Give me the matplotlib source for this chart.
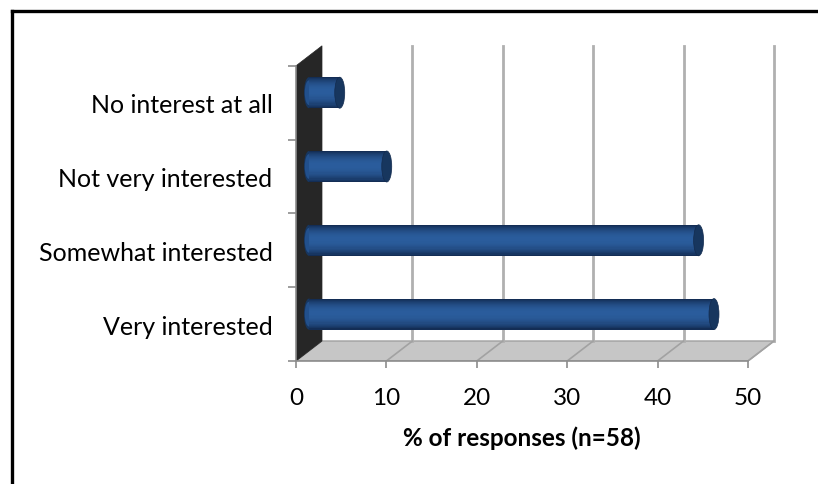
import matplotlib
matplotlib.use("Agg")
import numpy as np
import matplotlib.pyplot as plt
from matplotlib.patches import Polygon, Ellipse
from matplotlib.lines import Line2D
from matplotlib.colors import to_rgb

# ---- data ----
categories = ["Very interested", "Somewhat interested", "Not very interested", "No interest at all"]
values = [44.8, 43.1, 8.6, 3.4]
x_ticks = [0, 10, 20, 30, 40, 50]
x_label = "% of responses (n=58)"

plt.rcParams['font.family'] = ['Lato', 'DejaVu Sans']

W, H = 818, 485
fig = plt.figure(figsize=(W / 100, H / 100), dpi=100)
fig.patch.set_facecolor("white")

# pixel geometry of the front plane
x0_px, px_per_unit = 296, 9.04
y0_px, px_per_cat = 362, 73.8
xmax, ymax = 53.2, 3.78
ax = fig.add_axes([x0_px / W, (H - y0_px) / H,
                   xmax * px_per_unit / W, (ymax + 0.5) * px_per_cat / H])
ax.set_xlim(0, xmax)
ax.set_ylim(-0.5, ymax)
ax.patch.set_alpha(0)

dx, dy = 26 / px_per_unit, 20 / px_per_cat
vmax = x_ticks[-1]
n = len(categories)
ybot, ytop = -0.5, n - 0.5

grid_c = "#B0B0B0"
# floor
ax.add_patch(Polygon([(0, ybot), (vmax, ybot), (vmax + dx, ybot + dy), (dx, ybot + dy)],
                     closed=True, facecolor="#C6C6C6", edgecolor="#A0A0A0", lw=1.0, zorder=1))
# left wall
ax.add_patch(Polygon([(0, ybot), (0, ytop), (dx, ytop + dy), (dx, ybot + dy)],
                     closed=True, facecolor="#262626", edgecolor="#262626", lw=0.5, zorder=1.2))
# gridlines back wall + floor
for t in x_ticks[1:]:
    ax.plot([t + dx, t + dx], [ybot + dy, ytop + dy], color=grid_c, lw=2.0, zorder=1.1)
    ax.plot([t, t + dx], [ybot, ybot + dy], color="#A2A2A2", lw=1.2, zorder=1.1)

# cylinders
h = 0.42
yc = [i + dy / 2 for i in range(n)]
start = dx / 2
cap_w = 10 / px_per_unit
edge_rgb = np.array(to_rgb("#132D55"))
mid_rgb = np.array(to_rgb("#2A5C9C"))
for y, v in zip(yc, values):
    ax.add_patch(Ellipse((start, y), cap_w, h, facecolor="#17365F", edgecolor="none", zorder=3))
    ax.add_patch(Ellipse((start, y), cap_w * 0.85, h * 0.8, facecolor="#22508C", edgecolor="none", zorder=3))
nl = 14
for k in range(nl):
    frac = 1 - k / nl
    w = np.sin(0.5 * np.pi * (k / (nl - 1))) ** 0.8
    col = edge_rgb + (mid_rgb - edge_rgb) * w
    off = 0.04 * h * (k / nl)
    ax.barh([y + off for y in yc], values, left=start, height=h * frac,
            color=tuple(col), edgecolor="none", zorder=3.1 + k * 0.001)
for y, v in zip(yc, values):
    ax.add_patch(Ellipse((start + v, y), cap_w, h, facecolor="#17365E", edgecolor="#132B4E",
                         lw=0.5, zorder=3.3))

# axes styling
for s in ["top", "right"]:
    ax.spines[s].set_visible(False)
ax.spines["bottom"].set_bounds(0, vmax)
ax.spines["left"].set_bounds(ybot, ytop)
for s in ["bottom", "left"]:
    ax.spines[s].set_color("#8C8C8C")
    ax.spines[s].set_linewidth(1.2)
    ax.spines[s].set_zorder(2)

ax.set_xticks(x_ticks)
ax.set_xticklabels([str(t) for t in x_ticks])
ax.tick_params(axis="x", direction="out", length=5, width=1.2, color="#8C8C8C",
               labelsize=17.5, pad=14, labelcolor="black")
ax.set_yticks(range(n))
ax.set_yticklabels(categories)
ax.set_yticks([i - 0.5 for i in range(n + 1)], minor=True)
ax.tick_params(axis="y", which="major", length=0, labelsize=18, pad=17, labelcolor="black")
ax.tick_params(axis="y", which="minor", direction="out", length=6, width=1.2, color="#8C8C8C")

fig.text(522 / W, 1 - 438 / H, x_label, ha="center", va="center",
         fontsize=17.5, fontweight="bold")

# outer border (left and top)
fig.add_artist(Line2D([12 / W, 12 / W], [0, 1 - 12 / H], color="black", lw=2.4,
                      transform=fig.transFigure))
fig.add_artist(Line2D([12 / W, 1], [1 - 12 / H, 1 - 12 / H], color="black", lw=2.4,
                      transform=fig.transFigure))

fig.savefig("out.png", dpi=100, facecolor="white")
